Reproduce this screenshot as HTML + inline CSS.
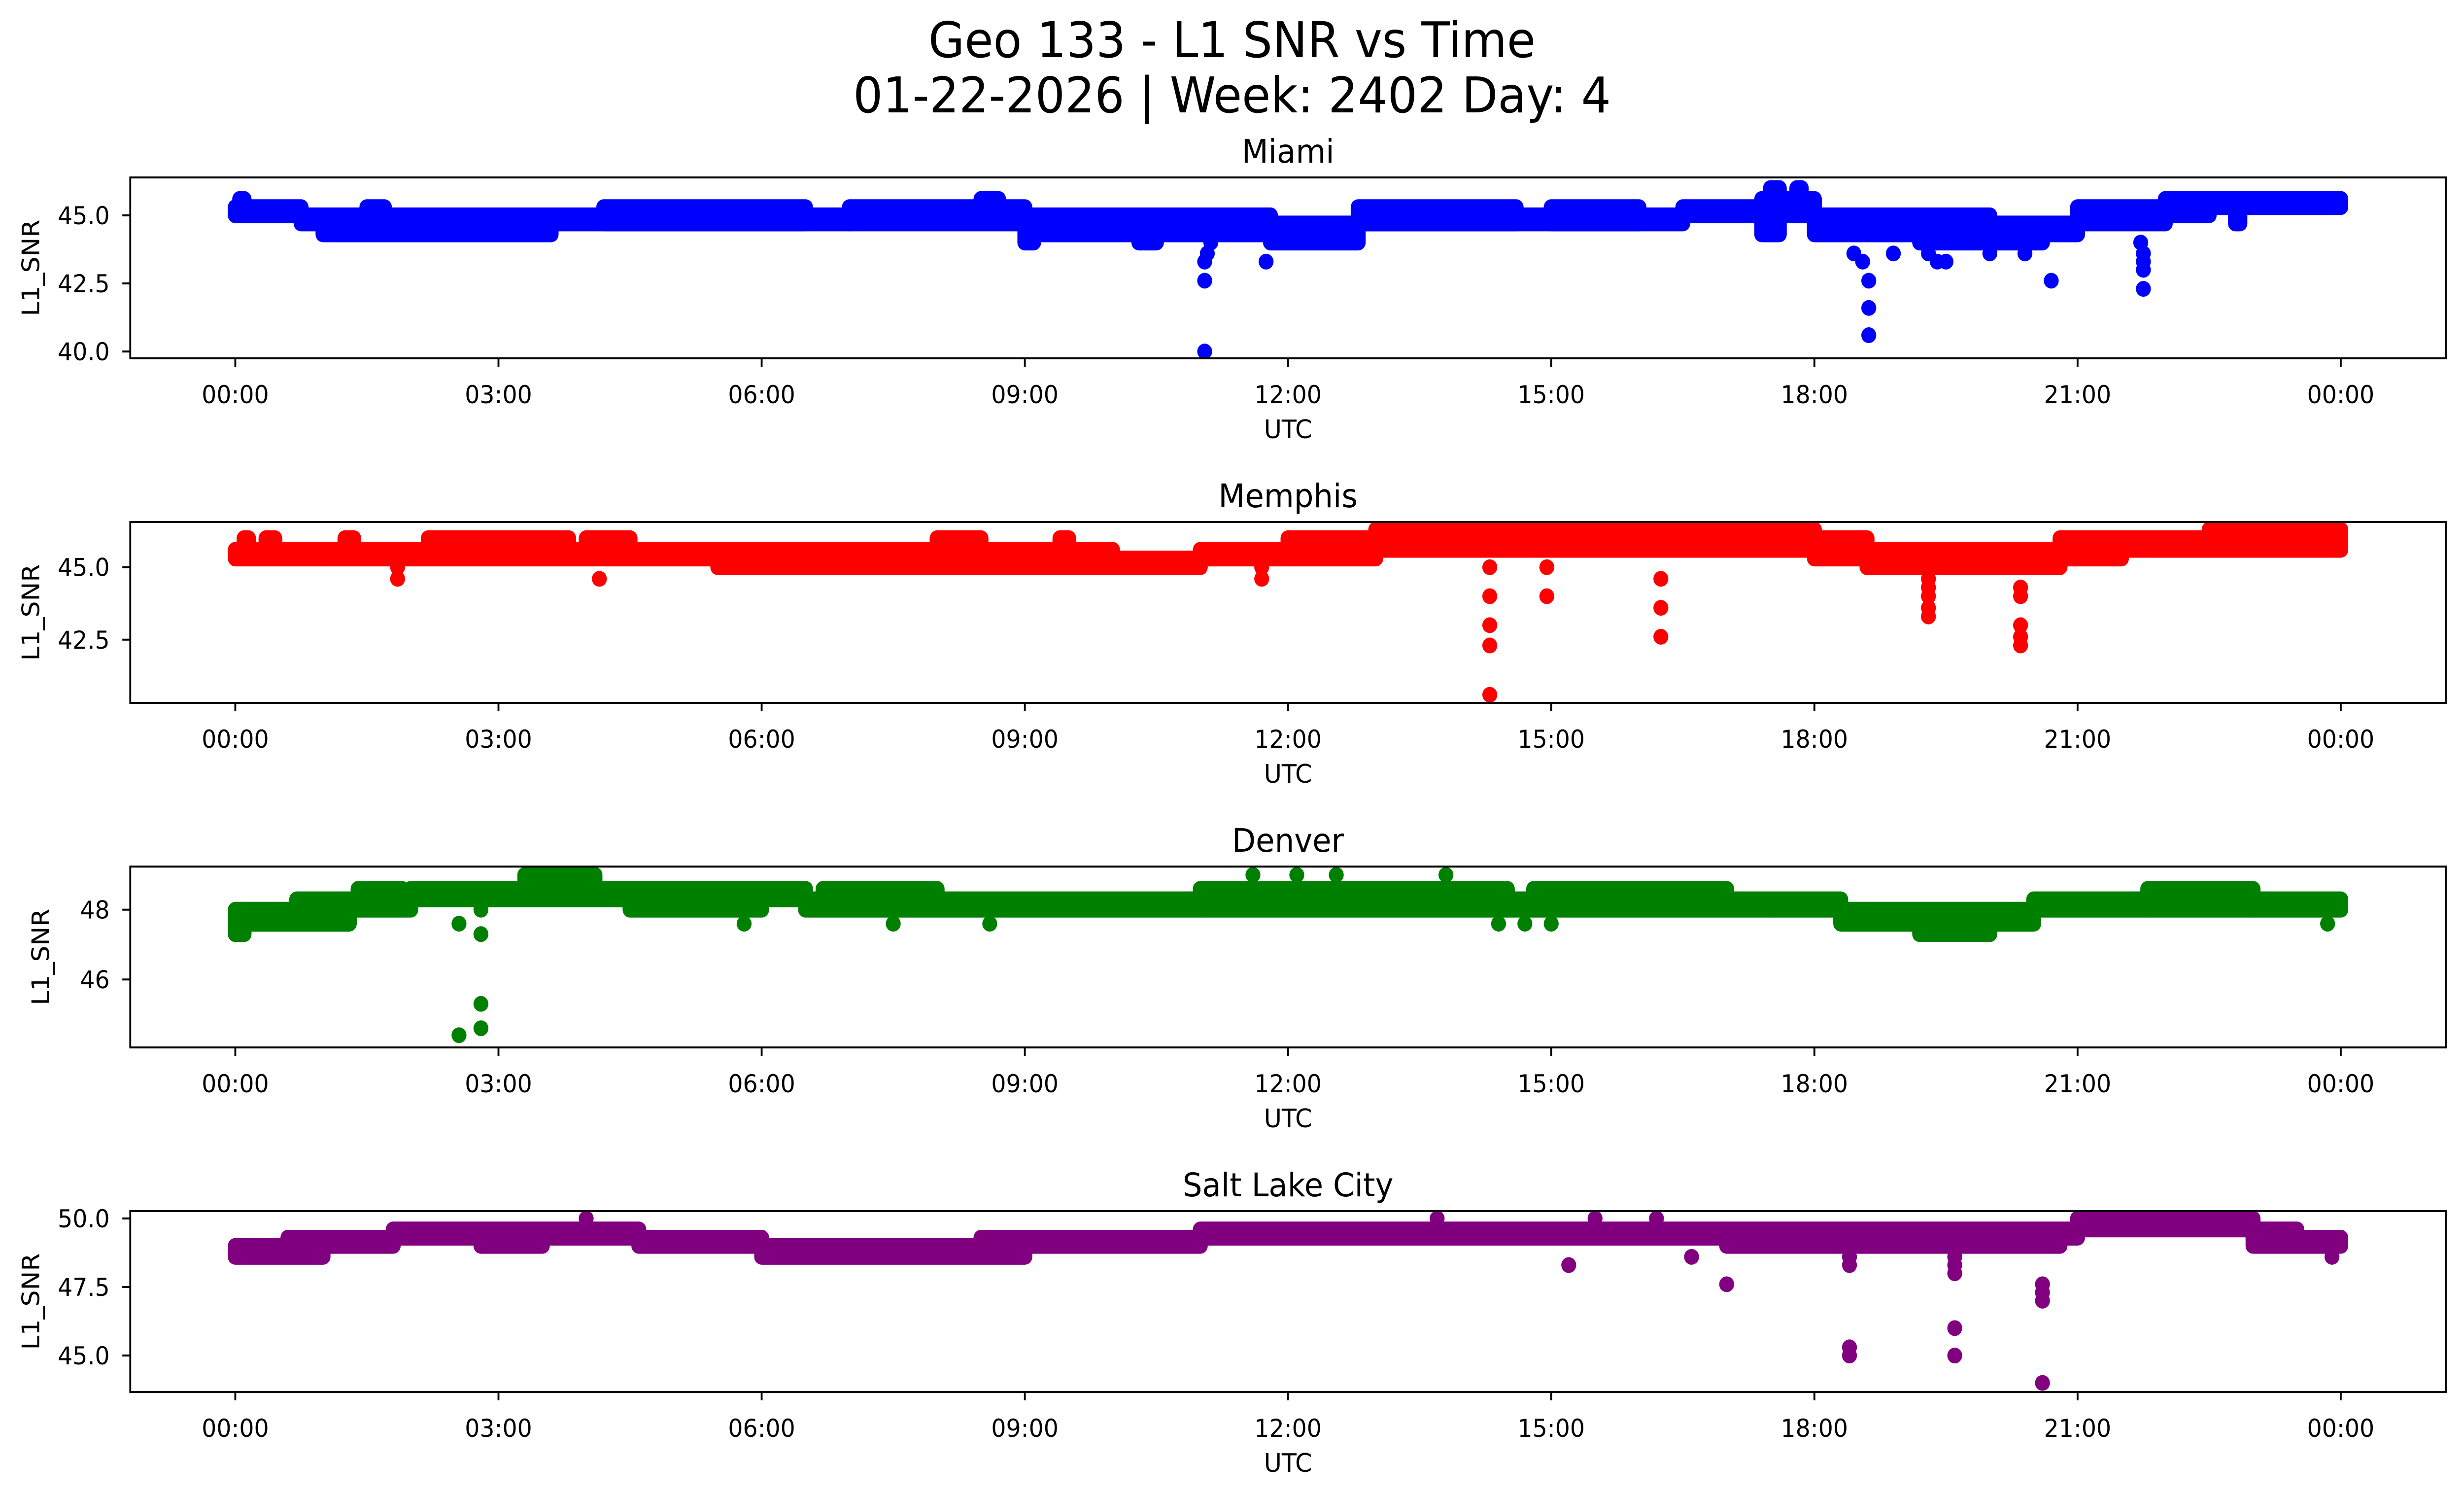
<!DOCTYPE html>
<html><head><meta charset="utf-8">
<style>
html,body{margin:0;padding:0;background:#fff;width:100%;height:100%;overflow:hidden;}
svg{display:block;position:fixed;left:0;top:0;width:100vw;height:100vh;font-family:"DejaVu Sans","Liberation Sans",sans-serif;}
</style></head>
<body>
<svg id="fig" viewBox="0 0 5278 3033" preserveAspectRatio="none" xmlns="http://www.w3.org/2000/svg">
<rect width="5278" height="3033" fill="#fff"/>
<text x="2639" y="116" font-size="100" text-anchor="middle">Geo 133 - L1 SNR vs Time</text>
<text x="2639" y="228" font-size="100" text-anchor="middle">01-22-2026 | Week: 2402 Day: 4</text>
</svg>
<script>
// ---- data ----
const xTickHours = [0,3,6,9,12,15,18,21,24];
const xTickLabels = ["00:00","03:00","06:00","09:00","12:00","15:00","18:00","21:00","00:00"];
const stationNames = ["Miami","Memphis","Denver","Salt Lake City"];
const stationColors = ["#0000ff","#ff0000","#008000","#800080"];
const yLimits = [[39.75,46.39],[40.32,46.56],[44.05,49.24],[43.67,50.27]];
const yTicks = [[40,42.5,45],[42.5,45],[46,48],[45,47.5,50]];
const yTickLabels = [["40.0","42.5","45.0"],["42.5","45.0"],["46","48"],["45.0","47.5","50.0"]];
// bands: [startHour, endHour, lowSNR, highSNR]
const miamiBands = [[0,0.75,45.0,45.3],[0.05,0.1,45.0,45.6],[0.75,7.0,44.7,45.0],[1.0,3.6,44.3,44.7],[1.5,1.7,44.7,45.3],[4.2,6.5,44.7,45.3],[7.0,9.0,44.7,45.3],[8.5,8.7,45.0,45.6],[9.0,11.8,44.3,45.0],[9.0,9.1,44.0,44.3],[10.3,10.5,44.0,44.3],[11.8,12.8,44.0,44.7],[12.8,16.5,44.7,45.0],[12.8,14.6,44.7,45.3],[15.0,16.0,44.7,45.3],[16.5,17.4,45.0,45.3],[17.4,18.0,45.0,45.6],[17.5,17.6,45.6,46.0],[17.8,17.85,45.6,46.0],[17.4,17.6,44.3,45.0],[18.0,18.5,44.7,45.0],[18.0,18.5,44.3,44.7],[18.5,21.0,44.3,44.7],[18.5,20.0,44.7,45.0],[19.2,20.6,44.0,44.3],[21.0,22.0,44.7,45.3],[22.0,24.0,45.3,45.6],[22.0,22.5,45.0,45.3],[22.8,22.85,44.7,45.0]];
const miamiSpikes = [[11.05,40.0],[11.05,42.6],[11.05,43.3],[11.08,43.6],[11.12,44.0],[11.75,43.3],[18.45,43.6],[18.55,43.3],[18.62,42.6],[18.62,41.6],[18.62,40.6],[18.9,43.6],[19.3,43.6],[19.4,43.3],[19.5,43.3],[20.0,43.6],[20.4,43.6],[20.7,42.6],[21.75,42.3],[21.75,43.0],[21.75,43.3],[21.75,43.6],[21.72,44.0]];
const memphisBands = [[0,1.0,45.3,45.6],[0.1,0.15,45.6,46.0],[0.35,0.45,45.6,46.0],[1.0,2.2,45.3,45.6],[1.25,1.35,45.6,46.0],[2.2,3.8,45.3,46.0],[3.8,5.5,45.3,45.6],[4.0,4.5,45.6,46.0],[5.5,8.0,45.0,45.6],[8.0,10.0,45.0,45.6],[8.0,8.5,45.6,46.0],[9.4,9.5,45.6,46.0],[10.0,11.0,45.0,45.3],[11.0,12.0,45.3,45.6],[12.0,13.0,45.3,46.0],[13.0,18.0,45.6,46.3],[18.0,18.6,45.3,46.0],[18.6,20.8,45.0,45.6],[20.8,21.5,45.3,46.0],[21.5,22.5,45.6,46.0],[22.5,24.0,45.6,46.3]];
const memphisSpikes = [[1.85,44.6],[1.85,45.0],[4.15,44.6],[11.7,44.6],[11.7,45.0],[14.3,40.6],[14.3,42.3],[14.3,43.0],[14.3,44.0],[14.3,45.0],[14.95,44.0],[14.95,45.0],[16.25,42.6],[16.25,43.6],[16.25,44.6],[19.3,43.3],[19.3,43.6],[19.3,44.0],[19.3,44.3],[19.3,44.6],[20.35,42.3],[20.35,42.6],[20.35,43.0],[20.35,44.0],[20.35,44.3]];
const denverBands = [[0,0.1,47.3,48.0],[0.1,0.7,47.6,48.0],[0.7,1.3,47.6,48.3],[1.3,2.0,48.0,48.3],[1.4,1.9,48.3,48.6],[2.0,4.0,48.3,48.6],[3.3,4.1,48.6,49.0],[4.0,6.5,48.3,48.6],[4.5,6.0,48.0,48.3],[6.5,8.5,48.0,48.3],[6.7,8.0,48.3,48.6],[8.5,11.0,48.0,48.3],[11.0,14.5,48.0,48.6],[14.5,17.5,48.0,48.3],[14.8,17.0,48.3,48.6],[17.5,18.3,48.0,48.3],[18.3,20.5,47.6,48.0],[19.2,20.0,47.3,47.6],[20.5,21.8,48.0,48.3],[21.8,23.0,48.0,48.6],[23.0,24.0,48.0,48.3]];
const denverSpikes = [[2.55,44.4],[2.55,47.6],[2.8,44.6],[2.8,45.3],[2.8,47.3],[2.8,48.0],[5.8,47.6],[7.5,47.6],[8.6,47.6],[11.6,49.0],[12.1,49.0],[12.55,49.0],[13.8,49.0],[14.4,47.6],[14.7,47.6],[15.0,47.6],[23.85,47.6]];
const slcBands = [[0,1.0,48.6,49.0],[0.6,1.0,49.0,49.3],[1.0,1.8,49.0,49.3],[1.8,4.6,49.3,49.6],[2.8,3.5,49.0,49.3],[4.6,6.0,49.0,49.3],[6.0,9.0,48.6,49.0],[8.5,9.0,49.0,49.3],[9.0,11.0,49.0,49.3],[11.0,17.0,49.3,49.6],[17.0,21.0,49.3,49.6],[17.0,20.8,49.0,49.3],[21.0,23.0,49.6,50.0],[23.0,24.0,49.0,49.3],[23.0,23.5,49.3,49.6]];
const slcSpikes = [[4.0,50.0],[13.7,50.0],[15.5,50.0],[16.2,50.0],[15.2,48.3],[17.0,47.6],[16.6,48.6],[18.4,45.0],[18.4,45.3],[18.4,48.3],[18.4,48.6],[19.6,45.0],[19.6,46.0],[19.6,48.0],[19.6,48.3],[19.6,48.6],[20.6,44.0],[20.6,47.0],[20.6,47.3],[20.6,47.6],[23.9,48.6]];
const allBands = [miamiBands, memphisBands, denverBands, slcBands];
const allSpikes = [miamiSpikes, memphisSpikes, denverSpikes, slcSpikes];

// ---- layout ----
const NS = "http://www.w3.org/2000/svg";
const svg = document.getElementById("fig");
const axLeft = 279, axRight = 5239, axH = 367;
const axTops = [360, 1059, 1758, 2457];
const x0 = 504, x1 = 5014, R = 16;
function xScale(h){ return x0 + h/24*(x1-x0); }
function mk(tag, attrs, parent){
  const e = document.createElementNS(NS, tag);
  for (const k in attrs) e.setAttribute(k, attrs[k]);
  (parent||svg).appendChild(e);
  return e;
}
stationNames.forEach((name, i) => {
  const top = axTops[i], bot = top + axH;
  const [ymin, ymax] = yLimits[i];
  const yScale = v => bot - (v - ymin)/(ymax - ymin)*axH;
  const g = mk("g", {});
  
  
  const t = mk("text", {x:(axLeft+axRight)/2, y:top-30, "font-size":66, "text-anchor":"middle"}, g);
  t.textContent = name;
  
  
  const clipId = "clip"+i;
  const cp = mk("clipPath", {id:clipId}, g);
  mk("rect", {x:axLeft, y:top, width:axRight-axLeft, height:axH}, cp);
  const dg = mk("g", {"clip-path":"url(#"+clipId+")", fill:stationColors[i]}, g);
  
  
  allBands[i].forEach(b => {
    const xa = xScale(b[0]) - R, xb = xScale(b[1]) + R;
    const ya = yScale(b[3]) - R, yb = yScale(b[2]) + R;
    const r = mk("rect", {x:xa, y:ya, width:xb-xa, height:yb-ya, rx:R, ry:R}, dg);
    
    
  });
  allSpikes[i].forEach(p => {
    const c = mk("circle", {cx:xScale(p[0]), cy:yScale(p[1]), r:R}, dg);
    
    
  });
  const frame = mk("rect", {x:axLeft, y:top, width:axRight-axLeft, height:axH, fill:"none", stroke:"#000", "stroke-width":4}, g);
  
  
  xTickHours.forEach((h, k) => {
    const x = xScale(h);
    mk("line", {x1:x, x2:x, y1:bot, y2:bot+17, stroke:"#000", "stroke-width":4}, g);
    const tl = mk("text", {x:x, y:bot+91, "font-size":50, "text-anchor":"middle"}, g);
    tl.textContent = xTickLabels[k];
    
    
  });
  yTicks[i].forEach((v, k) => {
    const y = yScale(v);
    mk("line", {x1:axLeft-17, x2:axLeft, y1:y, y2:y, stroke:"#000", "stroke-width":4}, g);
    const tl = mk("text", {x:235, y:y+18, "font-size":50, "text-anchor":"end"}, g);
    tl.textContent = yTickLabels[i][k];
    
    
  });
  const xl = mk("text", {x:(axLeft+axRight)/2, y:bot+162, "font-size":52, "text-anchor":"middle"}, g);
  xl.textContent = "UTC";
  
  
  const yc = top + axH/2;
  const ylx = (i === 2) ? 105 : 84;
  const yl = mk("text", {x:ylx, y:yc, "font-size":52, "text-anchor":"middle", transform:"rotate(-90 "+ylx+" "+yc+")"}, g);
  yl.textContent = "L1_SNR";
  
  
});
</script>
</body></html>
